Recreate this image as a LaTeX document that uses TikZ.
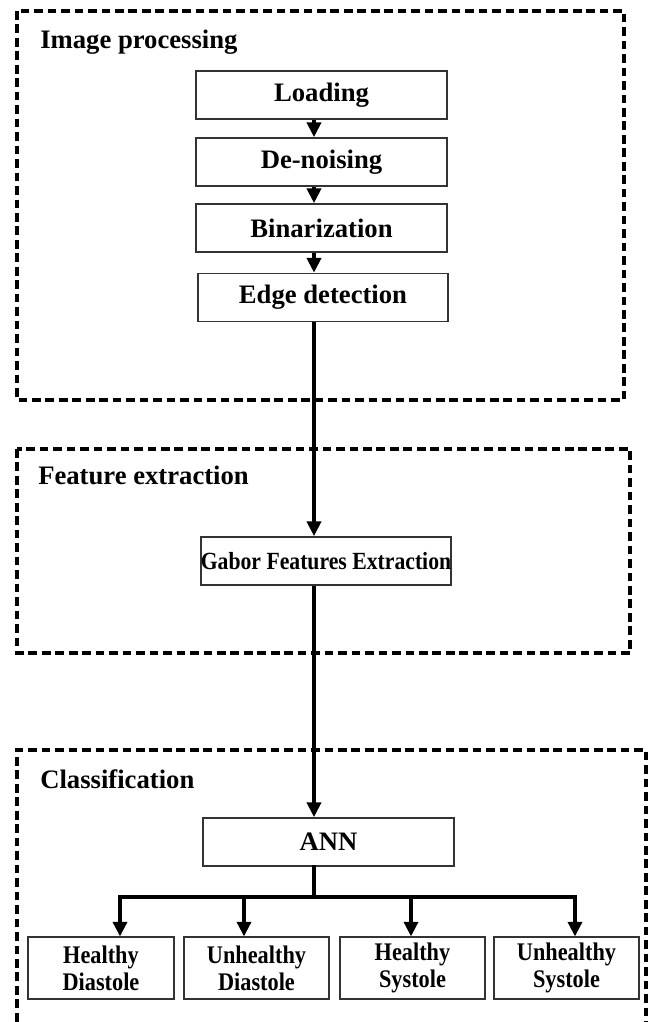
\documentclass[tikz,border=0pt]{standalone}
\usepackage{fontspec}
\setmainfont{Liberation Serif}
\newfontfamily\narrowfont[FakeStretch=0.88]{Liberation Serif}
\usetikzlibrary{arrows.meta}
\begin{document}
\begin{tikzpicture}[x=0.75pt,y=-0.75pt,
  group/.style={draw, dash pattern=on 6.5pt off 3.6pt, line width=2.3pt},
  title/.style={anchor=base west, inner sep=0pt, font=\fontsize{20}{24}\selectfont\bfseries},
  proc/.style={draw=black!80, line width=1.3pt, minimum width=188pt, minimum height=36pt,
    inner sep=0pt, font=\fontsize{20}{24}\selectfont\bfseries},
  leaf/.style={draw=black!80, line width=1.3pt, minimum width=109pt, minimum height=46pt,
    inner sep=0pt, align=center, font=\narrowfont\fontsize{19}{20}\selectfont\bfseries},
  link/.style={line width=2.6pt, line cap=rect},
  flow/.style={line width=2.6pt, -{Triangle[length=11pt,width=10.5pt]}}
]
\useasboundingbox (0,0) rectangle (652,1022);

% group frames
\draw[group] (17,11) rectangle (624,400);
\draw[group] (17,449) rectangle (630,653);
\draw[group] (17,1035) -- (17,750) -- (646,750) -- (646,1035);

\node[title] (t1) at (40,48) {Image processing};
\node[title] (t2) at (38,484) {Feature extraction};
\node[title] (t3) at (40,788) {Classification};

% nodes
\node[proc] (load) at (321.5,95) {Loading};
\node[proc] (denoise) at (321.5,162) {De-noising};
\node[proc] (binar) at (321.5,228) {Binarization};
\node[proc] (edge) at (323,297.5) {Edge detection};
\node[proc, font=\narrowfont\fontsize{18.5}{22}\selectfont\bfseries] (gabor) at (326,561) {Gabor Features Extraction};
\node[proc] (ann) at (328.5,842) {ANN};

\node[leaf] (hd) at (101,968) {Healthy\\Diastole};
\node[leaf] (ud) at (256.5,968) {Unhealthy\\Diastole};
\node[leaf] (hs) at (412.5,968) {Healthy\\Systole};
\node[leaf] (us) at (566.5,968) {Unhealthy\\Systole};

% connectors
\coordinate (spine) at (314,0);
\draw[flow] (load.south -| spine) -- (denoise.north -| spine);
\draw[flow] (denoise.south -| spine) -- (binar.north -| spine);
\draw[flow] (binar.south -| spine) -- (edge.north -| spine);
\draw[flow] (edge.south -| spine) -- (gabor.north -| spine);
\draw[flow] (gabor.south -| spine) -- (ann.north -| spine);

\coordinate (branch) at (314,897);
\coordinate (b1) at (120,897);
\coordinate (b2) at (244,897);
\coordinate (b3) at (411,897);
\coordinate (b4) at (575,897);
\draw[link] (ann.south -| spine) -- (branch);
\draw[link] (b1) -- (b4);
\foreach \n/\b in {hd/b1,ud/b2,hs/b3,us/b4}
  \draw[flow] (\b) -- (\b |- \n.north);
\end{tikzpicture}
\end{document}
